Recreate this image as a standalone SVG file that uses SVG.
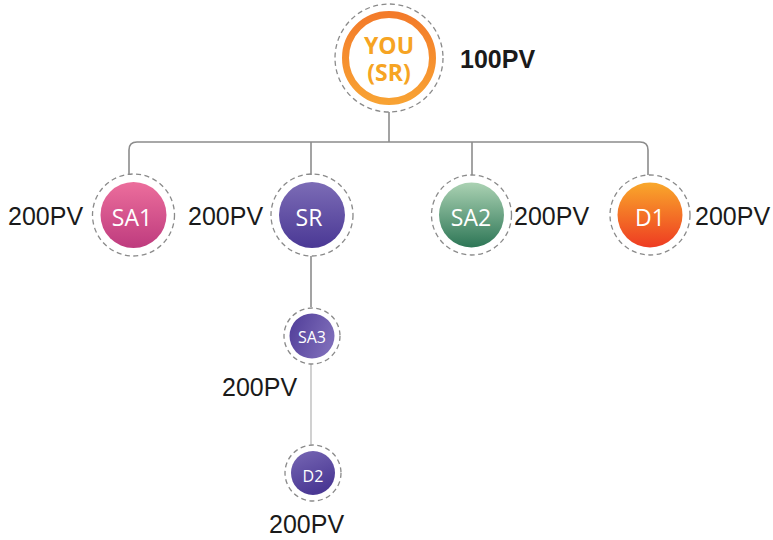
<svg xmlns="http://www.w3.org/2000/svg" width="773" height="540" viewBox="0 0 773 540">
<style>
.dash{fill:none;stroke:#8a8a8a;stroke-width:1.3;stroke-dasharray:5 3.5}
.conn{fill:none;stroke:#8c8c8c;stroke-width:1.6}
.conn2{fill:none;stroke:#bdbdbd;stroke-width:1.4}
.pv{font-family:"Liberation Sans",Arial,sans-serif;font-size:25px;fill:#1a1a1a}
.lbl{font-family:"Open Sans","Liberation Sans",sans-serif;fill:#ffffff;text-anchor:middle}
.you{font-family:"Open Sans","Liberation Sans",sans-serif;font-weight:700;font-size:23px;fill:#F6A423;text-anchor:middle}
</style>
<defs>
<linearGradient id="gOr" x1="0" y1="0" x2="0" y2="1"><stop offset="0" stop-color="#F37B2A"/><stop offset="1" stop-color="#F8A233"/></linearGradient>
<linearGradient id="gPk" x1="0" y1="0" x2="0" y2="1"><stop offset="0" stop-color="#EC6E9C"/><stop offset="1" stop-color="#BE3B7E"/></linearGradient>
<linearGradient id="gPu" x1="0" y1="0" x2="0" y2="1"><stop offset="0" stop-color="#7C6CB6"/><stop offset="1" stop-color="#4A3895"/></linearGradient>
<linearGradient id="gGr" x1="0" y1="0" x2="0" y2="1"><stop offset="0" stop-color="#ABD2B3"/><stop offset="1" stop-color="#2D7656"/></linearGradient>
<linearGradient id="gD1" x1="0" y1="0" x2="0" y2="1"><stop offset="0" stop-color="#F9A82B"/><stop offset="1" stop-color="#EE3B22"/></linearGradient>
<linearGradient id="gPu2" x1="0" y1="0" x2="1" y2="0.4"><stop offset="0" stop-color="#4F3C98"/><stop offset="1" stop-color="#7C6BB8"/></linearGradient>
<linearGradient id="gPu3" x1="0" y1="0" x2="0.4" y2="1"><stop offset="0" stop-color="#7767B4"/><stop offset="1" stop-color="#4A3894"/></linearGradient>
</defs>
<g id="connectors">
<path class="conn" d="M389,112 V142"/>
<path class="conn" d="M129,175 V150 Q129,142 137,142 H640 Q648,142 648,150 V175"/>
<path class="conn" d="M311,142 V175"/>
<path class="conn" d="M472,142 V175"/>
<path class="conn" d="M311,256 V307"/>
<path class="conn2" d="M311,364 V445"/>
</g>
<g id="you">
<circle class="dash" cx="389" cy="58" r="54"/>
<circle cx="389" cy="58" r="43.5" fill="#ffffff" stroke="url(#gOr)" stroke-width="7"/>
<text x="389" y="54" class="you">YOU</text>
<text x="389" y="81" class="you">(SR)</text>
<text x="460" y="68" class="pv" font-weight="700">100PV</text>
</g>
<g id="sa1">
<circle class="dash" cx="133.5" cy="215" r="41"/>
<circle cx="133.5" cy="215" r="33" fill="url(#gPk)"/>
<text x="132" y="226" class="lbl" font-size="23">SA1</text>
<text x="8" y="225" class="pv">200PV</text>
</g>
<g id="sr">
<circle class="dash" cx="312" cy="215" r="41"/>
<circle cx="312" cy="215" r="33" fill="url(#gPu)"/>
<text x="309" y="226" class="lbl" font-size="23">SR</text>
<text x="188" y="225" class="pv">200PV</text>
</g>
<g id="sa2">
<circle class="dash" cx="471.5" cy="215" r="40"/>
<circle cx="471.5" cy="215" r="32.5" fill="url(#gGr)"/>
<text x="471" y="226" class="lbl" font-size="23">SA2</text>
<text x="514" y="225" class="pv">200PV</text>
</g>
<g id="d1">
<circle class="dash" cx="650" cy="215" r="40"/>
<circle cx="650" cy="215" r="32.5" fill="url(#gD1)"/>
<text x="650" y="226" class="lbl" font-size="23">D1</text>
<text x="695" y="225" class="pv">200PV</text>
</g>
<g id="sa3">
<circle class="dash" cx="312" cy="336" r="28"/>
<circle cx="312" cy="336" r="22.5" fill="url(#gPu2)"/>
<text x="312" y="343" class="lbl" font-size="16">SA3</text>
<text x="222" y="396" class="pv">200PV</text>
</g>
<g id="d2">
<circle class="dash" cx="313" cy="473" r="28"/>
<circle cx="313" cy="473" r="22" fill="url(#gPu3)"/>
<text x="313" y="482" class="lbl" font-size="16">D2</text>
<text x="269" y="533" class="pv">200PV</text>
</g>
</svg>
